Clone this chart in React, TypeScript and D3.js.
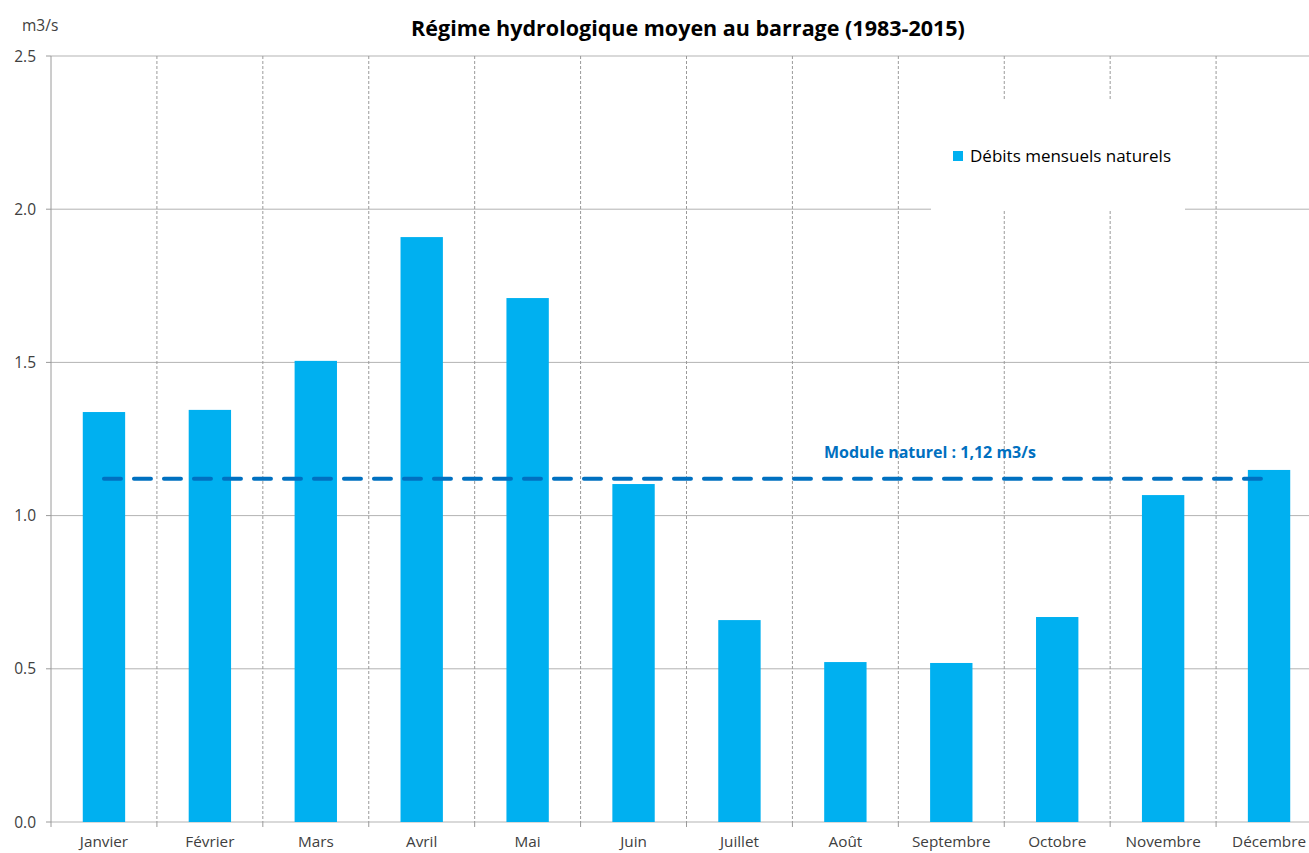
import React from "react";
import * as d3 from "d3";

const months = ["Janvier","Février","Mars","Avril","Mai","Juin","Juillet","Août","Septembre","Octobre","Novembre","Décembre"];
const debits = [1.338, 1.345, 1.505, 1.909, 1.71, 1.103, 0.659, 0.522, 0.519, 0.669, 1.067, 1.149];
const moduleNaturel = 1.12;
const yTicks = [0, 0.5, 1.0, 1.5, 2.0, 2.5];

const W = 1309, H = 853;
const left = 51, right = 1322, top = 56, bottom = 822;

export default function App() {
  const x = d3.scaleBand<string>().domain(months).range([left, right]).paddingInner(0).paddingOuter(0);
  const y = d3.scaleLinear().domain([0, 2.5]).range([bottom, top]);
  const bw = x.bandwidth() * 0.4;
  const font = "'Open Sans', sans-serif";
  const firstC = x(months[0])! + x.bandwidth() / 2;
  const lastC = x(months[11])! + x.bandwidth() / 2;
  return (
    <svg width={W} height={H} style={{ position: "absolute", left: 0, top: 0, background: "#fff" }} fontFamily={font}>
      {yTicks.map(t => (
        <line key={"h" + t} x1={left} x2={right} y1={y(t)} y2={y(t)} stroke="#b3b3b3" strokeWidth={1} />
      ))}
      {months.slice(1).map(m => (
        <line key={"v" + m} x1={x(m)!} x2={x(m)!} y1={top} y2={bottom} stroke="#9a9a9a" strokeWidth={1} strokeDasharray="3,2" />
      ))}
      <line x1={right} x2={right} y1={top} y2={bottom} stroke="#9a9a9a" strokeDasharray="3,2" />
      <line x1={left} x2={left} y1={top} y2={bottom} stroke="#9a9a9a" />
      {yTicks.map(t => (
        <g key={"yt" + t}>
          <line x1={left - 5} x2={left} y1={y(t)} y2={y(t)} stroke="#9a9a9a" />
          <text x={36} y={y(t) + 5.5} textAnchor="end" fontSize={15.5} fill="#404040">{t.toFixed(1)}</text>
        </g>
      ))}
      {months.map(m => (
        <line key={"xt" + m} x1={x(m)!} x2={x(m)!} y1={bottom} y2={bottom + 5} stroke="#9a9a9a" />
      ))}
      <rect x={931} y={100} width={254} height={111} fill="#fff" />
      {months.map((m, i) => (
        <rect key={"b" + m} x={x(m)! + (x.bandwidth() - bw) / 2} y={y(debits[i])} width={bw} height={bottom - y(debits[i])} fill="#00B0F0" />
      ))}
      <line x1={firstC} x2={lastC - 7} y1={y(moduleNaturel)} y2={y(moduleNaturel)} stroke="#0070C0" strokeWidth={4} strokeDasharray="17,13" strokeLinecap="round" />
      <text x={824} y={458} fontSize={16} fontWeight="bold" fill="#0070C0">Module naturel : 1,12 m3/s</text>
      {months.map(m => (
        <text key={"l" + m} x={x(m)! + x.bandwidth() / 2} y={847} textAnchor="middle" fontSize={15.3} fill="#404040">{m}</text>
      ))}
      <rect x={953} y={151} width={10} height={10} fill="#00B0F0" />
      <text x={970} y={162} fontSize={17} fill="#000">Débits mensuels naturels</text>
      <text x={22} y={31} fontSize={15.5} fill="#404040">m3/s</text>
      <text x={688} y={36} textAnchor="middle" fontSize={21.5} fontWeight="bold" fill="#000">Régime hydrologique moyen au barrage (1983-2015)</text>
    </svg>
  );
}
